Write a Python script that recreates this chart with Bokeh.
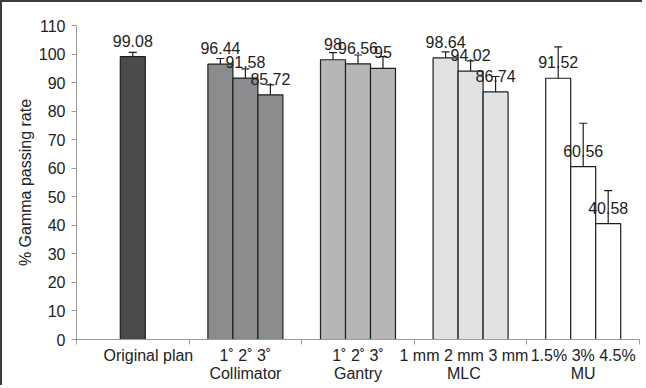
from bokeh.plotting import figure
from bokeh.models import ColumnDataSource, Whisker, FixedTicker, TeeHead, Range1d
from bokeh.core.properties import value
from bokeh.embed import file_html
from bokeh.resources import INLINE

# ---- data ----
groups = ["Original plan", "Collimator", "Gantry", "MLC", "MU"]
sub_labels = ["", "1˚ 2˚ 3˚", "1˚ 2˚ 3˚", "1 mm 2 mm 3 mm", "1.5% 3% 4.5%"]
values = [[99.08], [96.44, 91.58, 85.72], [98.0, 96.56, 95.0],
          [98.64, 94.02, 86.74], [91.52, 60.56, 40.58]]
errors = [[1.5], [2.0, 3.2, 3.5], [2.5, 3.1, 4.1], [2.1, 3.6, 5.4], [11.0, 15.2, 11.6]]
value_labels = [["99.08"], ["96.44", "91.58", "85.72"], ["98", "96.56", "95"],
                ["98.64", "94.02", "86.74"], ["91.52", "60.56", "40.58"]]
group_colors = ["#4a4b4d", "#8b8c8e", "#b5b6b8", "#e1e2e4", "#ffffff"]
y_ticks = list(range(0, 111, 10))

BAR_W = 0.222

xs, ys, los, his, cols, labs = [], [], [], [], [], []
for gi, (vals, errs, labels_g) in enumerate(zip(values, errors, value_labels)):
    n = len(vals)
    for j, (v, e, t) in enumerate(zip(vals, errs, labels_g)):
        xs.append(gi + 0.5 + (j - (n - 1) / 2) * BAR_W)
        ys.append(v)
        los.append(v - e)
        his.append(v + e)
        cols.append(group_colors[gi])
        labs.append(t)

src = ColumnDataSource(dict(x=xs, y=ys, lo=los, hi=his, c=cols, t=labs))

p = figure(frame_width=563, frame_height=314, output_backend="svg", toolbar_location=None,
           x_range=Range1d(0, len(groups)), y_range=Range1d(0, 110),
           min_border_left=74, min_border_top=23, min_border_right=3, min_border_bottom=44)
p.outline_line_color = None
p.grid.visible = False
p.background_fill_color = "white"
p.border_fill_color = "white"
p.styles = {"border-left": "2px solid #3c3c3c", "border-top": "2px solid #3c3c3c"}

FONT = "Liberation Sans"
FS = "16px"

p.vbar(x="x", top="y", bottom=0, width=BAR_W, fill_color="c", line_color="#1e1e1e",
       line_width=1.2, source=src)

w = Whisker(base="x", lower="lo", upper="hi", source=src, line_color="#1e1e1e", line_width=1.2,
            upper_head=TeeHead(size=8, line_color="#1e1e1e", line_width=1.2),
            lower_head=TeeHead(size=8, line_color="#1e1e1e", line_width=1.2))
p.add_layout(w)

p.text(x="x", y="y", text="t", source=src, text_align="center", text_baseline="middle",
       y_offset=-16, text_font=value(FONT), text_font_size=FS, text_color="#222222")

# y axis
p.yaxis.ticker = FixedTicker(ticks=y_ticks)
p.yaxis.axis_label = "% Gamma passing rate"
p.yaxis.axis_label_text_font = FONT
p.yaxis.axis_label_text_font_style = "normal"
p.yaxis.axis_label_text_font_size = FS
p.yaxis.axis_label_text_color = "#222222"
p.yaxis.axis_label_standoff = 2
p.yaxis.major_label_text_font = FONT
p.yaxis.major_label_text_font_size = FS
p.yaxis.major_label_text_color = "#222222"
p.yaxis.major_tick_in = 0
p.yaxis.major_tick_out = 5
p.yaxis.minor_tick_line_color = None
p.yaxis.major_label_standoff = 6
p.yaxis.axis_line_color = "#9a9a9a"
p.yaxis.major_tick_line_color = "#9a9a9a"

# x axis (two-line category labels, ticks at group boundaries)
NB = "\u00a0"
lead = {0: 7}   # "Original plan" sits right of its slot in the original
trail = {3: 3}  # MLC labels sit slightly left of their slot
centers = [i + 0.5 for i in range(len(groups))]
p.xaxis.ticker = FixedTicker(ticks=centers, minor_ticks=list(range(len(groups) + 1)))
overrides = {}
for i, (c, g, s) in enumerate(zip(centers, groups, sub_labels)):
    pre = NB * lead.get(i, 0)
    post = NB * trail.get(i, 0)
    lines = [g] if s == "" else [s, g]
    overrides[c] = "\n".join(pre + ln + post for ln in lines)
p.xaxis.major_label_overrides = overrides
p.xaxis.major_tick_line_color = None
p.xaxis.major_tick_in = 0
p.xaxis.major_tick_out = 0
p.xaxis.minor_tick_in = 0
p.xaxis.minor_tick_out = 5
p.xaxis.minor_tick_line_color = "#9a9a9a"
p.xaxis.axis_line_color = "#9a9a9a"
p.xaxis.major_label_standoff = 2
p.xaxis.major_label_text_font = FONT
p.xaxis.major_label_text_font_size = FS
p.xaxis.major_label_text_color = "#222222"
p.xaxis.major_label_text_line_height = 1.1

open("out.html", "w").write(file_html(p, INLINE))
